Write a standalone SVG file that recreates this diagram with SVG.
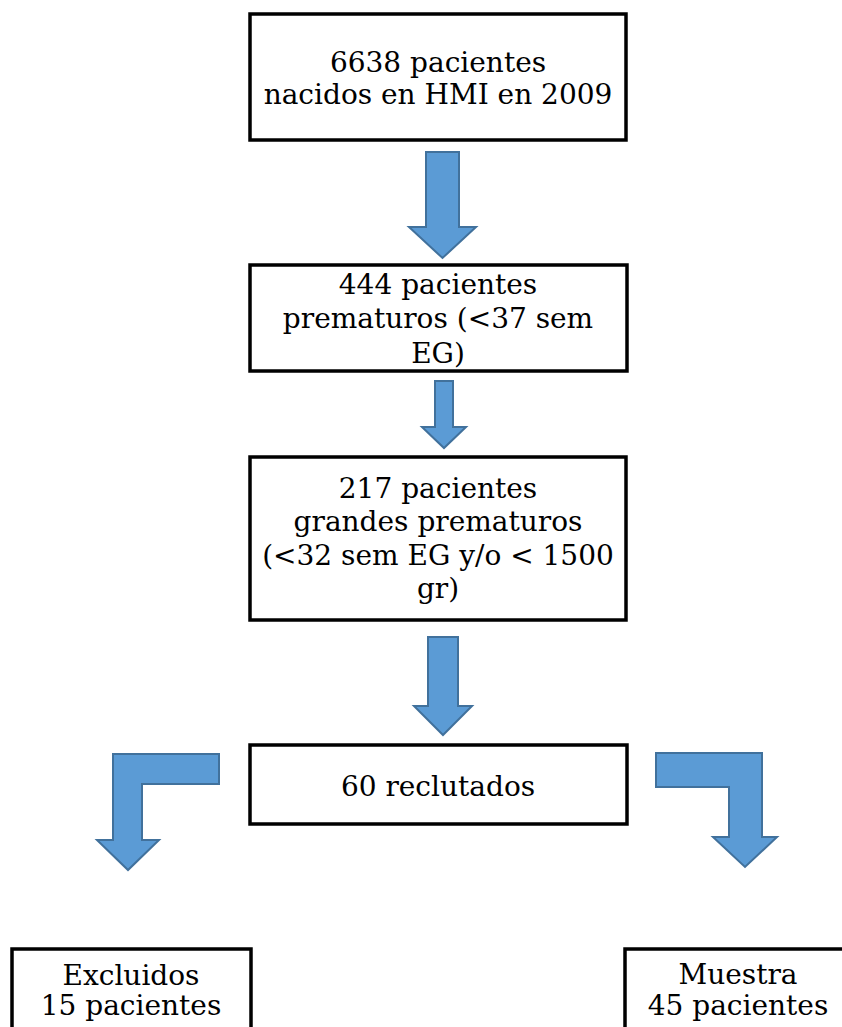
<svg xmlns="http://www.w3.org/2000/svg" width="842" height="1027" viewBox="0 0 842 1027">
<style>
.box{fill:#ffffff;stroke:#000000;stroke-width:3.5}
.arr{fill:#5B9BD5;stroke:#41719C;stroke-width:2;stroke-linejoin:miter}
text{font-family:"DejaVu Serif","Liberation Serif",serif;font-size:28px;fill:#000000;text-anchor:middle}
</style>
<rect width="842" height="1027" fill="#ffffff"/>
<g id="connectors">
<polygon class="arr" points="426,152 459,152 459,227 476,227 442.5,258 409,227 426,227"/>
<polygon class="arr" points="435,381 453,381 453,427 466,427 444,448 422,427 435,427"/>
<polygon class="arr" points="428,637 458,637 458,706 472,706 443,735 414,706 428,706"/>
<polygon class="arr" points="113,754 219,754 219,784 142,784 142,840 159,840 128,870 97,840 113,840"/>
<polygon class="arr" points="656,753 762,753 762,837 777,837 745,867 713,837 729,837 729,787 656,787"/>
</g>
<g id="n1">
<rect class="box" x="250" y="14" width="376" height="126"/>
<text x="438" y="72">6638 pacientes</text>
<text x="438" y="104">nacidos en HMI en 2009</text>
</g>
<g id="n2">
<rect class="box" x="250" y="265" width="377" height="106"/>
<text x="438" y="294">444 pacientes</text>
<text x="438" y="328">prematuros (&lt;37 sem</text>
<text x="438" y="363">EG)</text>
</g>
<g id="n3">
<rect class="box" x="250" y="457" width="376" height="163"/>
<text x="438" y="498">217 pacientes</text>
<text x="438" y="531">grandes prematuros</text>
<text x="438" y="565">(&lt;32 sem EG y/o &lt; 1500</text>
<text x="438" y="598">gr)</text>
</g>
<g id="n4">
<rect class="box" x="250" y="745" width="377" height="79"/>
<text x="438" y="796">60 reclutados</text>
</g>
<g id="n5">
<rect class="box" x="12" y="949" width="239" height="100"/>
<text x="131" y="985">Excluidos</text>
<text x="131" y="1015">15 pacientes</text>
</g>
<g id="n6">
<rect class="box" x="625" y="949" width="226" height="100"/>
<text x="738" y="984">Muestra</text>
<text x="738" y="1015">45 pacientes</text>
</g>
</svg>
